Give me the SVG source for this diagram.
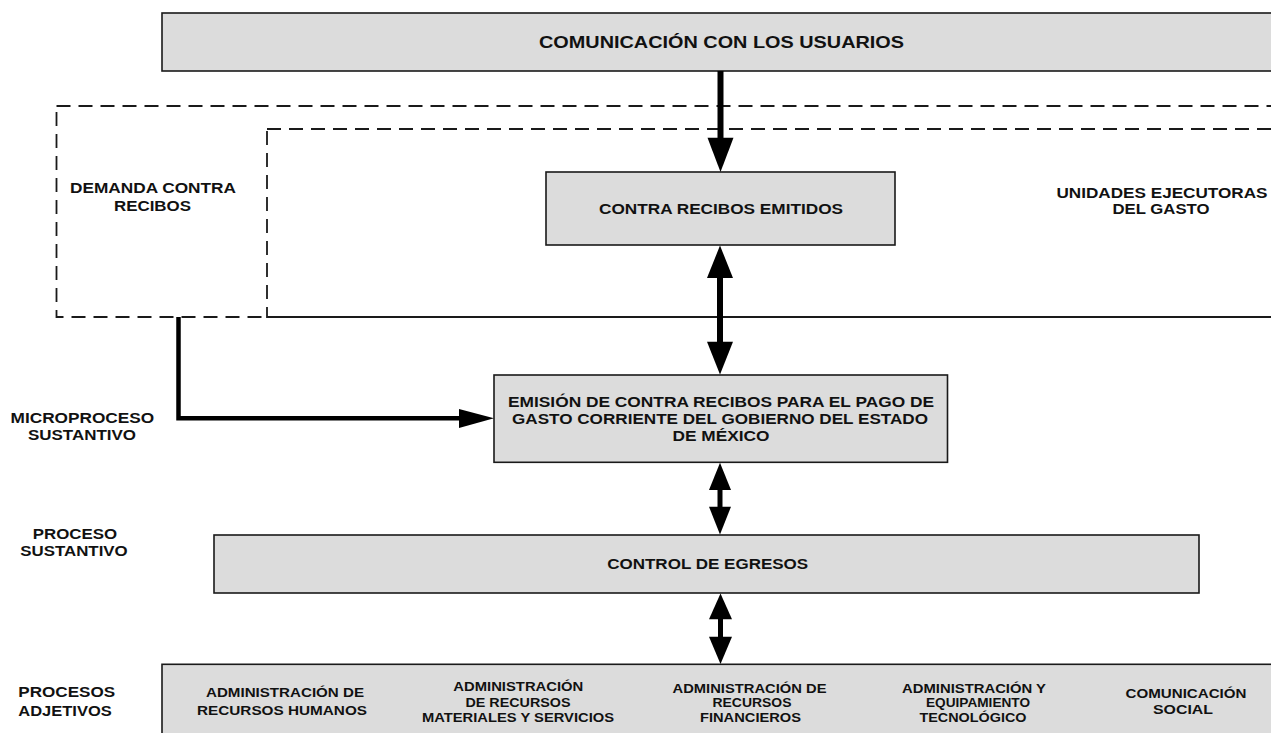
<svg xmlns="http://www.w3.org/2000/svg" width="1271" height="733" viewBox="0 0 1271 733">
<style>
.box{fill:#dcdcdc;stroke:#1a1a1a;stroke-width:1.6}
.dash{fill:none;stroke:#1a1a1a;stroke-width:1.8;stroke-dasharray:14 8}
.t{font-family:"Liberation Sans",Arial,sans-serif;font-weight:bold;fill:#111;text-anchor:middle}
.f14{font-size:14px}
.f12{font-size:12px}
.f16{font-size:16.5px}
.sh{fill:none;stroke:#000;stroke-linecap:butt}
.hd{fill:#000}
</style>
<rect width="1271" height="733" fill="#fff"/>
<g id="frame-demanda"><rect class="dash" x="56.5" y="106" width="1240" height="211"/>
<text class="t f14" x="153" y="193" textLength="166" lengthAdjust="spacingAndGlyphs">DEMANDA CONTRA</text>
<text class="t f14" x="152.5" y="210.7" textLength="77" lengthAdjust="spacingAndGlyphs">RECIBOS</text></g>
<g id="frame-unidades"><rect class="dash" x="267" y="129" width="1030" height="188"/>
<text class="t f14" x="1162" y="197.7" textLength="211" lengthAdjust="spacingAndGlyphs">UNIDADES EJECUTORAS</text>
<text class="t f14" x="1161" y="214.3" textLength="97" lengthAdjust="spacingAndGlyphs">DEL GASTO</text></g>
<g id="usuarios"><rect class="box" x="162" y="13" width="1130" height="58"/>
<text class="t f16" x="721.5" y="47.8" textLength="365" lengthAdjust="spacingAndGlyphs">COMUNICACIÓN CON LOS USUARIOS</text></g>
<g id="contra-recibos"><rect class="box" x="546" y="172" width="349" height="73"/>
<text class="t f14" x="721" y="214.3" textLength="244" lengthAdjust="spacingAndGlyphs">CONTRA RECIBOS EMITIDOS</text></g>
<g id="emision"><rect class="box" x="494" y="375" width="453.5" height="87.3"/>
<text class="t f14" x="721" y="407.3" textLength="426" lengthAdjust="spacingAndGlyphs">EMISIÓN DE CONTRA RECIBOS PARA EL PAGO DE</text>
<text class="t f14" x="720" y="424.3" textLength="416" lengthAdjust="spacingAndGlyphs">GASTO CORRIENTE DEL GOBIERNO DEL ESTADO</text>
<text class="t f14" x="721" y="441" textLength="97" lengthAdjust="spacingAndGlyphs">DE MÉXICO</text></g>
<g id="control"><rect class="box" x="214" y="535" width="985" height="58"/>
<text class="t f14" x="707.7" y="569" textLength="201" lengthAdjust="spacingAndGlyphs">CONTROL DE EGRESOS</text></g>
<g id="adjetivos"><rect class="box" x="162" y="664.3" width="1130" height="80"/>
<text class="t f12" x="285" y="696.5" textLength="158" lengthAdjust="spacingAndGlyphs">ADMINISTRACIÓN DE</text>
<text class="t f12" x="282" y="715" textLength="170" lengthAdjust="spacingAndGlyphs">RECURSOS HUMANOS</text>
<text class="t f12" x="518.3" y="691" textLength="130" lengthAdjust="spacingAndGlyphs">ADMINISTRACIÓN</text>
<text class="t f12" x="518" y="706.6" textLength="105" lengthAdjust="spacingAndGlyphs">DE RECURSOS</text>
<text class="t f12" x="518" y="721.6" textLength="192" lengthAdjust="spacingAndGlyphs">MATERIALES Y SERVICIOS</text>
<text class="t f12" x="749.5" y="692.6" textLength="154" lengthAdjust="spacingAndGlyphs">ADMINISTRACIÓN DE</text>
<text class="t f12" x="752" y="707" textLength="79" lengthAdjust="spacingAndGlyphs">RECURSOS</text>
<text class="t f12" x="750.5" y="721.6" textLength="101" lengthAdjust="spacingAndGlyphs">FINANCIEROS</text>
<text class="t f12" x="974" y="692.6" textLength="144" lengthAdjust="spacingAndGlyphs">ADMINISTRACIÓN Y</text>
<text class="t f12" x="978" y="707" textLength="104" lengthAdjust="spacingAndGlyphs">EQUIPAMIENTO</text>
<text class="t f12" x="973" y="721.6" textLength="107" lengthAdjust="spacingAndGlyphs">TECNOLÓGICO</text>
<text class="t f12" x="1186" y="698.3" textLength="121" lengthAdjust="spacingAndGlyphs">COMUNICACIÓN</text>
<text class="t f12" x="1183" y="714.3" textLength="60" lengthAdjust="spacingAndGlyphs">SOCIAL</text></g>
<g id="labels">
<text class="t f14" x="82.4" y="423.3" textLength="143.7" lengthAdjust="spacingAndGlyphs">MICROPROCESO</text>
<text class="t f14" x="82" y="440.3" textLength="108" lengthAdjust="spacingAndGlyphs">SUSTANTIVO</text>
<text class="t f14" x="75" y="539.3" textLength="84.3" lengthAdjust="spacingAndGlyphs">PROCESO</text>
<text class="t f14" x="74" y="556" textLength="107.4" lengthAdjust="spacingAndGlyphs">SUSTANTIVO</text>
<text class="t f14" x="66.7" y="697.3" textLength="96.7" lengthAdjust="spacingAndGlyphs">PROCESOS</text>
<text class="t f14" x="65" y="715.7" textLength="93.4" lengthAdjust="spacingAndGlyphs">ADJETIVOS</text>
</g>
<g id="connectors">
<line class="sh" x1="720.5" y1="71" x2="720.5" y2="139" stroke-width="6"/>
<polygon class="hd" points="707.5,137.7 733.5,137.7 720.5,172"/>
<line class="sh" x1="720" y1="277" x2="720" y2="343" stroke-width="6"/>
<polygon class="hd" points="720,245.5 733,278 707,278"/>
<polygon class="hd" points="707,341.7 733,341.7 720,374.5"/>
<line class="sh" x1="720" y1="489" x2="720" y2="508" stroke-width="5"/>
<polygon class="hd" points="720,462.8 731,490 709,490"/>
<polygon class="hd" points="709,506.7 731,506.7 720,534.5"/>
<line class="sh" x1="720.5" y1="618" x2="720.5" y2="638" stroke-width="5"/>
<polygon class="hd" points="720.5,593.5 732,619.3 709,619.3"/>
<polygon class="hd" points="709,636.7 732,636.7 720.5,664"/>
<polyline class="sh" points="178.5,317 178.5,418.3 460,418.3" stroke-width="4.5" stroke-linejoin="miter"/>
<polygon class="hd" points="459,409 494,418.3 459,428"/>
</g>
</svg>
